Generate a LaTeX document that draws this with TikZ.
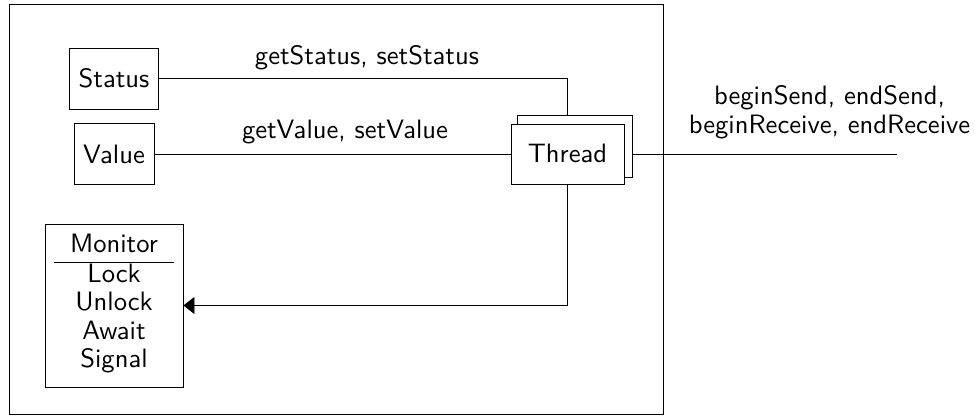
\documentclass[tikz,border=0pt]{standalone}
\usetikzlibrary{arrows.meta}
\newcommand{\bigtxt}[1]{\scalebox{2.66}{\sffamily #1}}
\begin{document}
\begin{tikzpicture}[x=1pt,y=-1pt,
  box/.style={draw, line width=0.85pt, fill=white, inner sep=0pt},
  wire/.style={line width=0.85pt},
  lbl/.style={anchor=base, inner sep=0pt}]
  \useasboundingbox (0,0) rectangle (975,419);
  % enclosing frame
  \draw[line width=0.85pt] (9,4) rectangle (663,414);

  % data objects
  \node[box, minimum width=89pt, minimum height=61pt] (status) at (113.5,78.5) {};
  \node[lbl] (tstatus) at (114,88) {\bigtxt{Status}};
  \node[box, minimum width=80pt, minimum height=61pt] (value) at (114,154) {};
  \node[lbl] (tvalue) at (114,164) {\bigtxt{Value}};

  % thread (stacked boxes)
  \node[box, minimum width=115pt, minimum height=62pt] (back) at (574.5,146) {};
  \node[box, minimum width=113pt, minimum height=60pt] (thread) at (567.5,154) {};
  \node[lbl] (tthread) at (567.5,163) {\bigtxt{Thread}};

  % monitor
  \node[box, minimum width=138pt, minimum height=163pt] (monitor) at (114,305.5) {};
  \node[lbl] (mtitle) at (114,253) {\bigtxt{Monitor}};
  \draw[wire] (54,262) -- (174,262);
  \node[lbl] (mlock) at (114,282.5) {\bigtxt{Lock}};
  \node[lbl] (munlock) at (114,311) {\bigtxt{Unlock}};
  \node[lbl] (mawait) at (114,340) {\bigtxt{Await}};
  \node[lbl] (msignal) at (114,368) {\bigtxt{Signal}};

  % connectors
  \draw[wire] (status.east) -| (thread.north |- back.north);
  \draw[wire] (value.east) -- (thread.west);
  \coordinate (ext) at (897,154);
  \draw[wire] (back.east |- thread.east) -- (ext);
  \draw[wire, -{Triangle[length=11pt,width=17pt]}] (thread.south) |- (monitor.east);

  % labels
  \node[lbl] (lstatus) at (367,65) {\bigtxt{getStatus, setStatus}};
  \node[lbl] (lvalue) at (345,139) {\bigtxt{getValue, setValue}};
  \node[lbl] (lext1) at (829.5,105) {\bigtxt{beginSend, endSend,}};
  \node[lbl] (lext2) at (829.5,134) {\bigtxt{beginReceive, endReceive}};
\end{tikzpicture}
\end{document}
